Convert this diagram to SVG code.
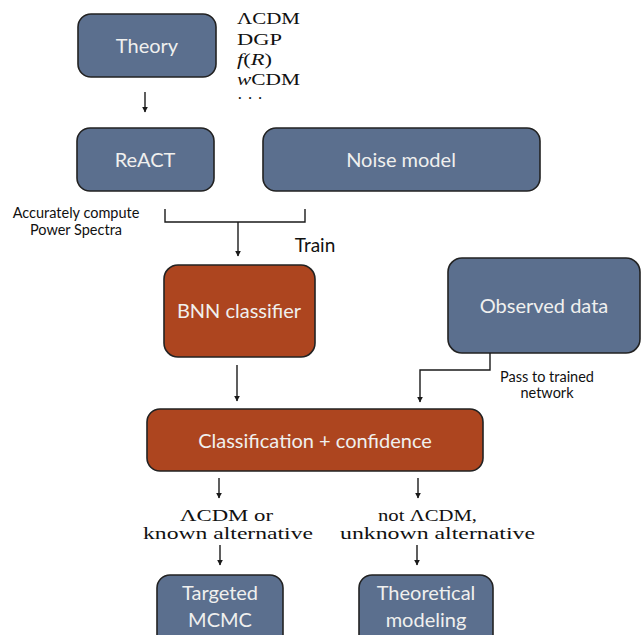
<svg xmlns="http://www.w3.org/2000/svg" width="642" height="635" viewBox="0 0 642 635">
<defs>
<marker id="ah" viewBox="0 0 10 10" refX="9" refY="5" markerWidth="6" markerHeight="6" markerUnits="userSpaceOnUse" orient="auto">
<path d="M0,0 L10,5 L0,10 z" fill="#1a1a1a"/>
</marker>
<style>
.blue{fill:#5b6f8e;stroke:#222;stroke-width:1.6}
.red{fill:#ad451f;stroke:#222;stroke-width:1.6}
.lbl{font-family:Lato,"Liberation Sans",sans-serif;fill:#f0f0ee;font-size:20px;text-anchor:middle}
.note{font-family:Lato,"Liberation Sans",sans-serif;fill:#111;font-size:14.5px;text-anchor:middle}
.math{font-family:"Liberation Serif","DejaVu Serif",serif;fill:#111;font-size:17px}
.c{fill:none;stroke:#1a1a1a;stroke-width:1.4}
</style>
</defs>
<rect width="642" height="635" fill="#fff"/>
<g id="theory">
<rect class="blue" x="78" y="14" width="138" height="63" rx="13"/>
<text class="lbl" x="147" y="53">Theory</text>
</g>
<g id="models">
<text class="math" x="237" y="24" textLength="63" lengthAdjust="spacingAndGlyphs">ΛCDM</text>
<text class="math" x="237" y="45" textLength="45" lengthAdjust="spacingAndGlyphs">DGP</text>
<text class="math" x="237" y="65" textLength="35" lengthAdjust="spacingAndGlyphs"><tspan font-style="italic">f</tspan>(<tspan font-style="italic">R</tspan>)</text>
<text class="math" x="237" y="85" textLength="63" lengthAdjust="spacingAndGlyphs"><tspan font-style="italic">w</tspan>CDM</text>
<text class="math" x="237" y="104" textLength="26" lengthAdjust="spacing">···</text>
</g>
<g id="react">
<rect class="blue" x="77" y="128" width="137" height="63" rx="13"/>
<text class="lbl" x="145" y="167">ReACT</text>
</g>
<g id="noise">
<rect class="blue" x="263" y="128" width="277" height="63" rx="13"/>
<text class="lbl" x="401" y="167">Noise model</text>
</g>
<g id="bnn">
<rect class="red" x="164" y="265" width="151" height="92" rx="14"/>
<text class="lbl" x="239" y="318">BNN classifier</text>
</g>
<g id="observed">
<rect class="blue" x="448" y="258" width="192" height="95" rx="14"/>
<text class="lbl" x="544" y="313">Observed data</text>
</g>
<g id="classification">
<rect class="red" x="147" y="409" width="336" height="62" rx="13"/>
<text class="lbl" x="315" y="448">Classification + confidence</text>
</g>
<g id="mcmc">
<rect class="blue" x="157" y="575" width="126" height="75" rx="13"/>
<text class="lbl" x="220" y="600">Targeted</text>
<text class="lbl" x="220" y="627">MCMC</text>
</g>
<g id="modeling">
<rect class="blue" x="359" y="575" width="134" height="75" rx="13"/>
<text class="lbl" x="426" y="600">Theoretical</text>
<text class="lbl" x="426" y="627">modeling</text>
</g>
<g id="labels">
<text class="note" x="76" y="218">Accurately compute</text>
<text class="note" x="76" y="235">Power Spectra</text>
<text x="315" y="252" style="font-family:Lato,'Liberation Sans',sans-serif;font-size:19px;fill:#111;text-anchor:middle">Train</text>
<text class="note" x="547" y="382">Pass to trained</text>
<text class="note" x="547" y="398">network</text>
<text class="math" x="180" y="521" textLength="93" lengthAdjust="spacingAndGlyphs">ΛCDM  or</text>
<text class="math" x="143" y="539" textLength="170" lengthAdjust="spacingAndGlyphs">known alternative</text>
<text class="math" x="378" y="521" textLength="99" lengthAdjust="spacingAndGlyphs">not ΛCDM,</text>
<text class="math" x="340" y="539" textLength="195" lengthAdjust="spacingAndGlyphs">unknown alternative</text>
</g>
<g id="connectors">
<line class="c" x1="145" y1="92" x2="145" y2="112" marker-end="url(#ah)"/>
<path class="c" d="M165,209 V222 H305 V209"/>
<line class="c" x1="238" y1="222" x2="238" y2="256" marker-end="url(#ah)"/>
<line class="c" x1="237" y1="365" x2="237" y2="401" marker-end="url(#ah)"/>
<path class="c" d="M490,353 V370 H420 V402" marker-end="url(#ah)"/>
<line class="c" x1="219" y1="478" x2="219" y2="498" marker-end="url(#ah)"/>
<line class="c" x1="418" y1="478" x2="418" y2="498" marker-end="url(#ah)"/>
<line class="c" x1="220" y1="545" x2="220" y2="565" marker-end="url(#ah)"/>
<line class="c" x1="417" y1="545" x2="417" y2="565" marker-end="url(#ah)"/>
</g>
</svg>
